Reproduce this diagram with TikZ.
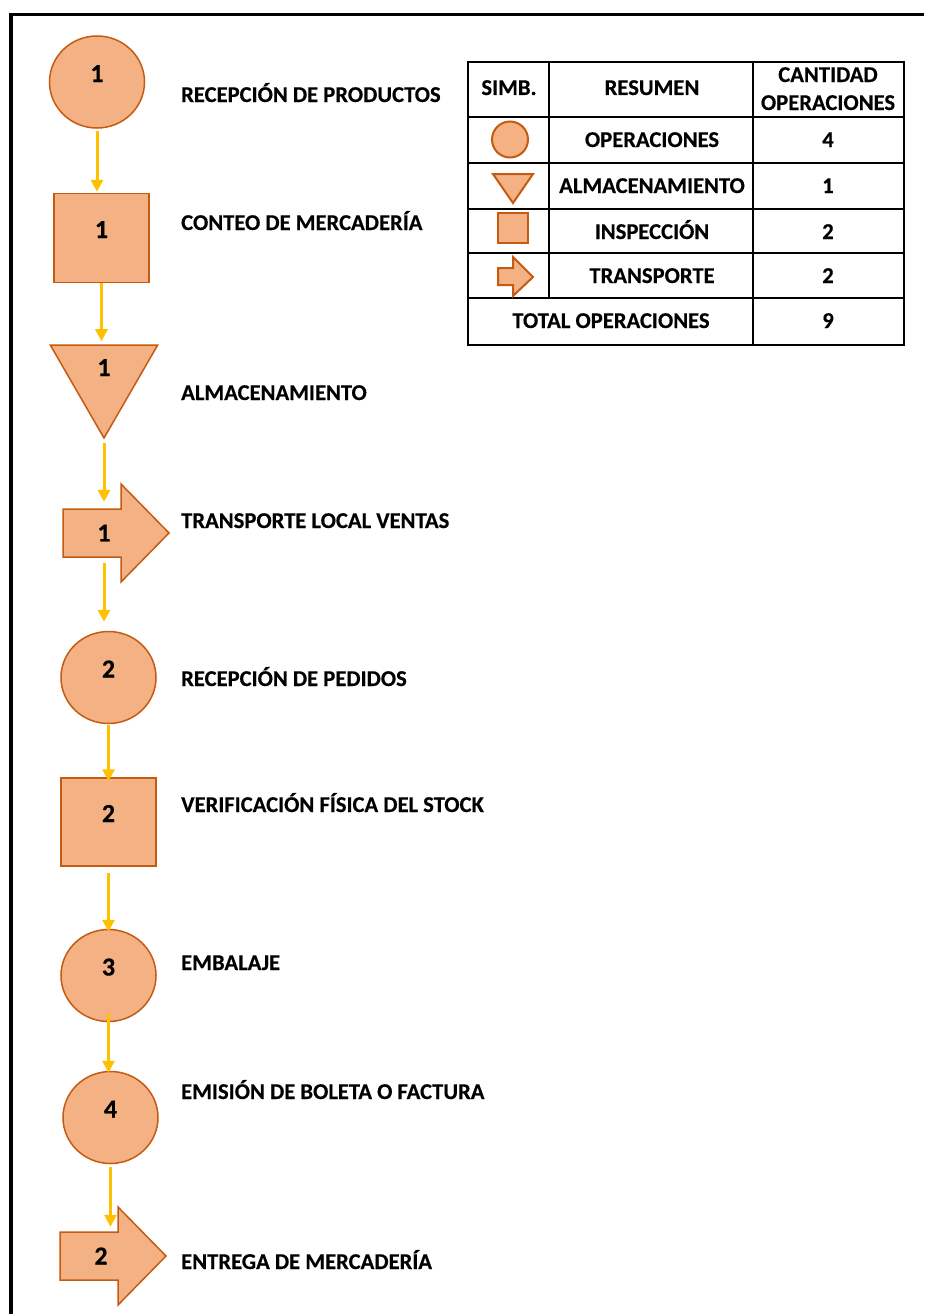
\documentclass[tikz,border=0pt]{standalone}
\usepackage{fontspec}
\setmainfont{Carlito}[BoldFeatures={FakeBold=0.4}]
\usetikzlibrary{shapes.geometric,arrows.meta,calc,backgrounds}

\definecolor{opfill}{HTML}{F4B183}
\definecolor{opline}{HTML}{C55A11}
\definecolor{flowc}{HTML}{FFC000}

% arrow outline behind a transport node
\newcommand{\trarrow}[1]{%
  \begin{pgfonlayer}{background}
    \draw[symbol] ($(#1)+(-41pt,24pt)$) -- ++(58pt,0pt) -- ++(0pt,25pt) -- ++(48pt,-49pt)
      -- ++(-48pt,-49pt) -- ++(0pt,25pt) -- ++(-58pt,0pt) -- cycle;
  \end{pgfonlayer}}

\begin{document}
\begin{tikzpicture}[x=1pt,y=-1pt,font=\bfseries\fontsize{22.6}{26}\selectfont]
    \tikzset{
        symbol/.style={draw=opline, fill=opfill, line width=1.5pt},
        num/.style={font=\bfseries\fontsize{26}{30}\selectfont, text height=16pt, text depth=16pt},
        oper/.style={symbol, num, ellipse, minimum width=95pt, minimum height=92pt, inner sep=0pt},
        insp/.style={symbol, num, rectangle, minimum width=95pt, minimum height=89pt, inner sep=0pt},
        almac/.style={symbol, num, regular polygon, regular polygon sides=3, shape border rotate=180, minimum size=124pt, inner sep=0pt},
        transp/.style={rectangle, font=\bfseries\fontsize{26}{30}\selectfont, minimum width=10pt, minimum height=48pt, inner sep=0pt},
        flow/.style={draw=flowc, line width=3pt, -{Triangle[length=12pt,width=12pt]}},
        desc/.style={anchor=base west, inner sep=0pt},
        cell/.style={anchor=base, inner sep=0pt},
        grid/.style={line width=1.8pt}
    }
    \useasboundingbox (0,0) rectangle (924,1314);

    % frame
    \draw[line width=3.5pt] (924,14.5) -- (11,14.5) -- (11,1314);

    % flow symbols
    \node[oper] (c1) at (97,82) {1};
    \node[insp] (s1) at (101.5,238) {1};
    \node[almac] (tri) at (104,376) {1};
    \node[transp] (t1) at (104,533) {1}; \trarrow{t1}
    \node[oper] (c2) at (108.5,677.5) {2};
    \node[insp, minimum height=88pt] (s2) at (108.5,822) {2};
    \node[oper] (c3) at (108.5,975.5) {3};
    \node[oper] (c4) at (110.5,1117.5) {4};
    \node[transp] (t2) at (101,1256) {2}; \trarrow{t2}

    \foreach \x/\y/\gs/\ge in {%
        c1/s1/2/1, s1/tri/0/3, tri/t1/3/7, t1/c2/6/9,%
        c2/s2/1/-4, s2/c3/6/-3, c3/c4/-9/-2, c4/t2/3/5%
    }{
        \draw[flow, shorten <=\gs pt, shorten >=\ge pt] (\x.south) -- (\x.south |- \y.north);
    }

    % descriptions
    \node[desc] (d1) at (181,102) {RECEPCIÓN DE PRODUCTOS};
    \node[desc] (d2) at (181,230) {CONTEO DE MERCADERÍA};
    \node[desc] (d3) at (181,400) {ALMACENAMIENTO};
    \node[desc] (d4) at (181,528) {TRANSPORTE LOCAL VENTAS};
    \node[desc] (d5) at (181,686) {RECEPCIÓN DE PEDIDOS};
    \node[desc] (d6) at (181,812) {VERIFICACIÓN FÍSICA DEL STOCK};
    \node[desc] (d7) at (181,970) {EMBALAJE};
    \node[desc] (d8) at (181,1099) {EMISIÓN DE BOLETA O FACTURA};
    \node[desc] (d9) at (181,1269) {ENTREGA DE MERCADERÍA};

    % summary table
    \draw[grid] (468,62) rectangle (904,345);
    \foreach \y in {117,163,209,253,298}
        \draw[grid] (468,\y) -- (904,\y);
    \draw[grid] (549,62) -- (549,298);
    \draw[grid] (753,62) -- (753,345);

    \node[cell] (h1) at (509,95) {SIMB.};
    \node[cell] (h2) at (652,95) {RESUMEN};
    \node[cell] (h3) at (828,82) {CANTIDAD};
    \node[cell] (h4) at (828,110) {OPERACIONES};

    \foreach \name/\val/\base in {%
        OPERACIONES/4/147, ALMACENAMIENTO/1/193, INSPECCIÓN/2/239, TRANSPORTE/2/283%
    }{
        \node[cell] (r\base) at (652,\base) {\name};
        \node[cell] (v\base) at (828,\base) {\val};
    }
    \node[cell] (tot) at (611,328) {TOTAL OPERACIONES};
    \node[cell] (totv) at (828,328) {9};

    % legend symbols
    \node[symbol, circle, minimum size=36pt, inner sep=0pt, line width=2pt] (lc) at (510,139.5) {};
    \draw[symbol, line width=2pt] (493,174) -- (533,174) -- (513,203) -- cycle;
    \node[symbol, rectangle, minimum size=30pt, inner sep=0pt, line width=2pt] (ls) at (513,228) {};
    \draw[symbol, line width=2pt] (498,268) -- (513,268) -- (513,257) -- (533,277)
        -- (513,296) -- (513,285) -- (498,285) -- cycle;
\end{tikzpicture}
\end{document}
